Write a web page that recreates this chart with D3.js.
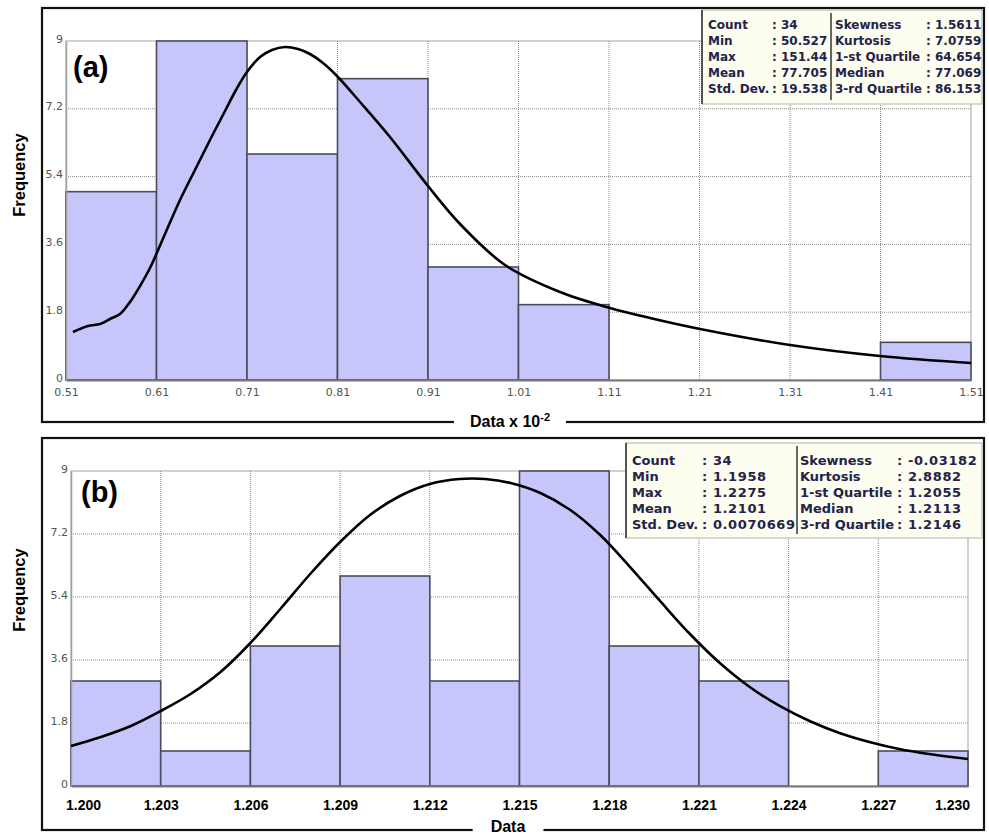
<!DOCTYPE html>
<html>
<head>
<meta charset="utf-8">
<script src="https://cdn.jsdelivr.net/npm/d3@7/dist/d3.min.js"></script>
<style>
  body { margin: 0; background: #fff; }
</style>
</head>
<body>
<script>
// ---- panel (a) data ----
const edgesA = [0.51, 0.61, 0.71, 0.81, 0.91, 1.01, 1.11, 1.21, 1.31, 1.41, 1.51];
const countsA = [5, 9, 6, 8, 3, 2, 0, 0, 0, 1];
const curveAx = [0.5177, 0.5343, 0.5476, 0.5586, 0.5697, 0.5807, 0.5918, 0.6028, 0.6194, 0.636, 0.6525,
  0.6691, 0.6857, 0.6978, 0.71, 0.7244, 0.7376, 0.752, 0.7664, 0.7796, 0.794, 0.8094, 0.8349,
  0.868, 0.91, 0.9454, 0.9951, 1.0559, 1.1111, 1.1553, 1.2106, 1.31, 1.4094, 1.51];
const curveAy = [1.274, 1.434, 1.487, 1.619, 1.752, 2.071, 2.496, 2.973, 3.876, 4.779, 5.575,
  6.372, 7.142, 7.699, 8.177, 8.575, 8.761, 8.841, 8.788, 8.655, 8.416, 8.071, 7.381,
  6.451, 5.15, 4.142, 3.053, 2.336, 1.912, 1.646, 1.354, 0.929, 0.637, 0.451];
const statNamesA = ['Count', 'Min', 'Max', 'Mean', 'Std. Dev.'];
const statValsA = [': 34', ': 50.527', ': 151.44', ': 77.705', ': 19.538'];
const statNames2A = ['Skewness', 'Kurtosis', '1-st Quartile', 'Median', '3-rd Quartile'];
const statVals2A = [': 1.5611', ': 7.0759', ': 64.654', ': 77.069', ': 86.153'];

// ---- panel (b) data ----
const edgesB = [1.200, 1.203, 1.206, 1.209, 1.212, 1.215, 1.218, 1.221, 1.224, 1.227, 1.230];
const countsB = [3, 1, 4, 6, 3, 9, 4, 3, 0, 1];
const curveBx = [1.2, 1.201, 1.202, 1.203, 1.204, 1.205, 1.206, 1.207, 1.208, 1.209, 1.21,
  1.211, 1.212, 1.213, 1.21385, 1.2147, 1.2157, 1.2167, 1.2177, 1.2187, 1.2197, 1.2207,
  1.2217, 1.2227, 1.2237, 1.2247, 1.2257, 1.2267, 1.2277, 1.2287, 1.23];
const curveBy = [1.143, 1.4, 1.714, 2.143, 2.629, 3.257, 4.086, 5.057, 6.057, 6.971, 7.743,
  8.286, 8.629, 8.771, 8.771, 8.657, 8.371, 7.886, 7.171, 6.257, 5.286, 4.343,
  3.514, 2.829, 2.286, 1.857, 1.514, 1.257, 1.057, 0.914, 0.771];
const statNamesB = ['Count', 'Min', 'Max', 'Mean', 'Std. Dev.'];
const statValsB = [': 34', ': 1.1958', ': 1.2275', ': 1.2101', ': 0.0070669'];
const statNames2B = ['Skewness', 'Kurtosis', '1-st Quartile', 'Median', '3-rd Quartile'];
const statVals2B = [': -0.03182', ': 2.8882', ': 1.2055', ': 1.2113', ': 1.2146'];

const yTicks = [0, 1.8, 3.6, 5.4, 7.2, 9];

const svg = d3.select('body').append('svg')
  .attr('width', 989)
  .attr('height', 836);

function drawPanel(p) {
  const g = svg.append('g');
  const x = d3.scaleLinear().domain(p.xDomain).range([p.left, p.right]);
  const y = d3.scaleLinear().domain([0, 9]).range([p.bottom, p.top]);

  // outer frame
  g.append('rect')
    .attr('x', p.frame[0]).attr('y', p.frame[1])
    .attr('width', p.frame[2] - p.frame[0]).attr('height', p.frame[3] - p.frame[1])
    .attr('fill', '#fff').attr('stroke', '#111').attr('stroke-width', 2.2);

  // plot area border
  g.append('rect')
    .attr('x', p.left).attr('y', p.top)
    .attr('width', p.right - p.left).attr('height', p.bottom - p.top)
    .attr('fill', '#fff').attr('stroke', '#c4c4c4').attr('stroke-width', 1.5);

  // grid
  g.selectAll('.hgrid').data(yTicks.slice(1, -1)).enter().append('line')
    .attr('x1', p.left).attr('x2', p.right)
    .attr('y1', d => y(d)).attr('y2', d => y(d))
    .attr('stroke', '#8a8a8a').attr('stroke-dasharray', '1,1');
  g.selectAll('.vgrid').data(p.edges.slice(1, -1)).enter().append('line')
    .attr('x1', d => x(d)).attr('x2', d => x(d))
    .attr('y1', p.top).attr('y2', p.bottom)
    .attr('stroke', '#8a8a8a').attr('stroke-dasharray', '1,1');

  // bars
  const bins = p.counts.map((c, i) => ({ x0: p.edges[i], x1: p.edges[i + 1], c }))
    .filter(d => d.c > 0);
  g.selectAll('.bar').data(bins).enter().append('rect')
    .attr('x', d => x(d.x0))
    .attr('y', d => y(d.c))
    .attr('width', d => x(d.x1) - x(d.x0))
    .attr('height', d => y(0) - y(d.c))
    .attr('fill', '#c6c6fa')
    .attr('stroke', '#4b4b5c')
    .attr('stroke-width', 1.6);

  // axes
  const xAxis = d3.axisBottom(x).tickValues(p.edges).tickSize(0)
    .tickPadding(p.xPad).tickFormat(d3.format(p.xFmt));
  const xg = g.append('g').attr('transform', `translate(0,${p.bottom})`).call(xAxis);
  xg.select('.domain').attr('stroke', '#777').attr('stroke-width', 2);
  xg.selectAll('text')
    .attr('font-family', p.xFont).attr('font-size', p.xSize)
    .attr('font-weight', p.xWeight).attr('fill', p.xColor)
    .attr('dx', (d, i) => (i === 0 ? p.firstDx : i === p.edges.length - 1 ? p.lastDx : 0));

  const yAxis = d3.axisLeft(y).tickValues(yTicks).tickSize(0).tickPadding(3)
    .tickFormat(d => d);
  const yg = g.append('g').attr('transform', `translate(${p.left},0)`).call(yAxis);
  yg.select('.domain').attr('stroke', '#a0a0a0').attr('stroke-width', 1.5);
  yg.selectAll('text')
    .attr('font-family', 'DejaVu Sans').attr('font-size', 11).attr('fill', '#555')
    .attr('dy', '0.1em');

  // fitted curve
  const pts = p.cx.map((v, i) => [v, p.cy[i]]);
  g.append('path')
    .datum(pts)
    .attr('d', d3.line().x(d => x(d[0])).y(d => y(d[1])).curve(d3.curveCatmullRom))
    .attr('fill', 'none').attr('stroke', '#000').attr('stroke-width', 2.6);

  // panel letter
  g.append('text')
    .attr('x', p.letterX).attr('y', p.letterY)
    .attr('font-family', 'Liberation Sans, Arial, sans-serif')
    .attr('font-weight', 'bold').attr('font-size', 29)
    .text(p.letter);

  // stats box
  const sb = p.box;
  g.append('rect')
    .attr('x', sb.x0).attr('y', sb.y0)
    .attr('width', sb.x1 - sb.x0).attr('height', sb.y1 - sb.y0)
    .attr('fill', '#fdfdf0').attr('stroke', '#b0b0b0').attr('stroke-width', 1);
  g.append('line')
    .attr('x1', sb.x0).attr('x2', sb.x0).attr('y1', sb.y0).attr('y2', sb.y1)
    .attr('stroke', '#555').attr('stroke-width', 2);
  g.append('line')
    .attr('x1', sb.div).attr('x2', sb.div).attr('y1', sb.y0 + 3).attr('y2', sb.y1 - 4)
    .attr('stroke', '#333').attr('stroke-width', 1.5);
  const cols = [p.sNames, p.sVals, p.sNames2, p.sVals2];
  cols.forEach((col, ci) => {
    g.selectAll('.st' + ci).data(col).enter().append('text')
      .attr('x', sb.cols[ci])
      .attr('y', (d, i) => sb.base + i * 16)
      .attr('font-family', 'DejaVu Sans, Verdana, sans-serif')
      .attr('font-weight', 'bold')
      .attr('font-size', sb.size)
      .attr('letter-spacing', ci % 2 === 1 ? sb.valSpacing : 0)
      .attr('fill', '#23234a')
      .text(d => d);
  });

  // y title
  g.append('text')
    .attr('transform', `translate(${p.yTitleX},${p.yTitleY}) rotate(-90)`)
    .attr('text-anchor', 'middle')
    .attr('font-family', 'Liberation Sans, Arial, sans-serif')
    .attr('font-weight', 'bold').attr('font-size', 16.5)
    .text('Frequency');

  // x title sitting on bottom frame line
  const gapRect = g.append('rect').attr('fill', '#fff');
  const xt = g.append('text')
    .attr('x', p.xTitleX).attr('y', p.frame[3] + p.xTitleDy)
    .attr('text-anchor', 'middle')
    .attr('font-family', 'Liberation Sans, Arial, sans-serif')
    .attr('font-weight', 'bold').attr('font-size', 16);
  xt.append('tspan').text(p.xTitle);
  if (p.xSup) {
    xt.append('tspan').attr('dy', -6).attr('font-size', 11).text(p.xSup);
  }
  const bb = xt.node().getBBox();
  gapRect.attr('x', bb.x - p.gapPad).attr('y', p.frame[3] - 3)
    .attr('width', bb.width + 2 * p.gapPad).attr('height', 6);
}

drawPanel({
  frame: [42, 8, 984, 422],
  left: 66, right: 971, top: 41, bottom: 380,
  xDomain: [0.51, 1.51], edges: edgesA, counts: countsA,
  cx: curveAx, cy: curveAy,
  xPad: 8, xFmt: '.2f', xFont: 'DejaVu Sans', xSize: 11, xWeight: 'normal', xColor: '#555',
  firstDx: 0, lastDx: 0,
  letter: '(a)', letterX: 73, letterY: 77,
  box: { x0: 702, y0: 10, x1: 982, y1: 104, div: 831, cols: [708, 772, 835, 926], base: 29, size: 12, valSpacing: 0 },
  sNames: statNamesA, sVals: statValsA, sNames2: statNames2A, sVals2: statVals2A,
  yTitleX: 25, yTitleY: 175,
  xTitle: 'Data x 10', xSup: '-2', xTitleX: 510, xTitleDy: 5, gapPad: 16
});

drawPanel({
  frame: [42, 438, 984, 830],
  left: 71, right: 968, top: 471, bottom: 786,
  xDomain: [1.200, 1.230], edges: edgesB, counts: countsB,
  cx: curveBx, cy: curveBy,
  xPad: 14, xFmt: '.3f', xFont: 'Liberation Sans, Arial, sans-serif', xSize: 14, xWeight: 'bold', xColor: '#000',
  firstDx: 12, lastDx: -16,
  letter: '(b)', letterX: 81, letterY: 502,
  box: { x0: 626, y0: 443, x1: 982, y1: 538, div: 797, cols: [632, 702, 800, 897], base: 465, size: 13, valSpacing: 0.6 },
  sNames: statNamesB, sVals: statValsB, sNames2: statNames2B, sVals2: statVals2B,
  yTitleX: 25, yTitleY: 590,
  xTitle: 'Data', xSup: null, xTitleX: 508, xTitleDy: 2, gapPad: 18
});
</script>
</body>
</html>
